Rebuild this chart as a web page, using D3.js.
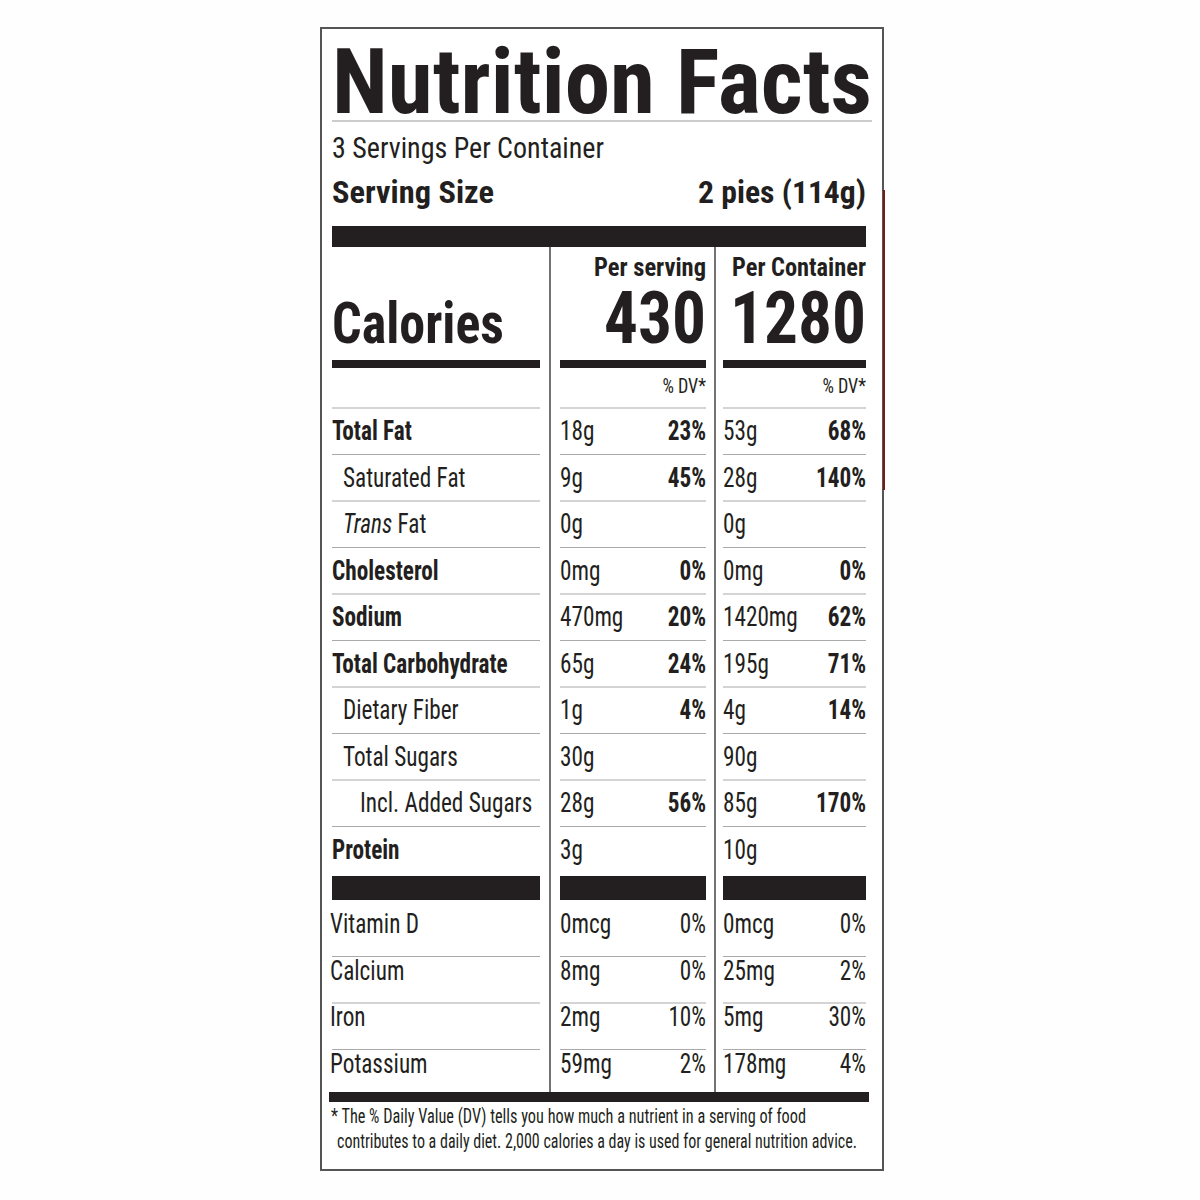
<!DOCTYPE html>
<html>
<head>
<meta charset="utf-8">
<script src="https://cdn.jsdelivr.net/npm/d3@7"></script>
<style>
  body { margin: 0; background: #fff; }
  text { font-family: "Liberation Sans Narrow", "Roboto Condensed", "Liberation Sans", sans-serif; fill: #231f20; }
</style>
</head>
<body>
<div id="label"></div>
<script>
// nutrient rows
const nutrients = ["Total Fat", "Saturated Fat", "Trans Fat", "Cholesterol", "Sodium",
  "Total Carbohydrate", "Dietary Fiber", "Total Sugars", "Incl. Added Sugars", "Protein"];
const indent = [0, 1, 1, 0, 0, 0, 1, 1, 2, 0];
const bold = [true, false, false, true, true, true, false, false, false, true];
const servingAmount = ["18g", "9g", "0g", "0mg", "470mg", "65g", "1g", "30g", "28g", "3g"];
const servingDV = ["23%", "45%", "", "0%", "20%", "24%", "4%", "", "56%", ""];
const containerAmount = ["53g", "28g", "0g", "0mg", "1420mg", "195g", "4g", "90g", "85g", "10g"];
const containerDV = ["68%", "140%", "", "0%", "62%", "71%", "14%", "", "170%", ""];

// vitamins & minerals
const vitamins = ["Vitamin D", "Calcium", "Iron", "Potassium"];
const vitServing = ["0mcg", "8mg", "2mg", "59mg"];
const vitServingDV = ["0%", "0%", "10%", "2%"];
const vitContainer = ["0mcg", "25mg", "5mg", "178mg"];
const vitContainerDV = ["0%", "2%", "30%", "4%"];

const ink = "#231f20";
const svg = d3.select("#label").append("svg").attr("width", 1200).attr("height", 1200);
svg.append("rect").attr("width", 1200).attr("height", 1200).attr("fill", "#fefefe");

// outer box
svg.append("rect").attr("x", 321).attr("y", 28).attr("width", 562).attr("height", 1142)
  .attr("fill", "#fff").attr("stroke", "#555").attr("stroke-width", 2);
svg.append("line").attr("x1", 884).attr("x2", 884).attr("y1", 190).attr("y2", 490)
  .attr("stroke", "#7a1a12").attr("stroke-width", 2);

const L = 332, R = 866;
const cols = [
  { x0: 332, x1: 540 },
  { x0: 560, x1: 706 },
  { x0: 723, x1: 866 }
];

// condensed look: squeeze natural width unless an explicit length is given
function txt(x, y, s, size, opts = {}) {
  const t = svg.append("text").attr("x", x).attr("y", y).attr("font-size", size)
    .attr("font-weight", opts.bold ? "bold" : "normal")
    .attr("text-anchor", opts.anchor || "start").text(s);
  if (opts.len) t.attr("textLength", opts.len).attr("lengthAdjust", "spacingAndGlyphs");
  else if (s) squeeze(t);
  return t;
}
function squeeze(t, f = 0.86) {
  const w = t.node().getComputedTextLength();
  if (w > 0) t.attr("textLength", w * f).attr("lengthAdjust", "spacingAndGlyphs");
}

// header
txt(L, 113, "Nutrition Facts", 90, { bold: true, len: R + 6 - L });
svg.append("line").attr("x1", L).attr("x2", R + 6).attr("y1", 121).attr("y2", 121).attr("stroke", "#999").attr("stroke-width", 1);
txt(L, 158, "3 Servings Per Container", 29, { len: 272 });
txt(L, 203, "Serving Size", 31, { bold: true, len: 162 });
txt(R, 203, "2 pies (114g)", 31, { bold: true, anchor: "end", len: 168 });
svg.append("rect").attr("x", L).attr("y", 226).attr("width", R - L).attr("height", 21).attr("fill", ink);

// column dividers
[550, 715].forEach(x => svg.append("line").attr("x1", x).attr("x2", x).attr("y1", 247).attr("y2", 1092)
  .attr("stroke", "#444").attr("stroke-width", 1.5));

txt(cols[1].x1, 276, "Per serving", 25, { bold: true, anchor: "end", len: 112 });
txt(cols[2].x1, 276, "Per Container", 25, { bold: true, anchor: "end", len: 134 });
txt(L, 343, "Calories", 58, { bold: true, len: 172 });
txt(cols[1].x1, 343, "430", 72, { bold: true, anchor: "end", len: 102 });
txt(cols[2].x1, 343, "1280", 72, { bold: true, anchor: "end", len: 136 });
cols.forEach(c => svg.append("rect").attr("x", c.x0).attr("y", 360).attr("width", c.x1 - c.x0).attr("height", 8).attr("fill", ink));
txt(cols[1].x1, 393, "% DV*", 21, { anchor: "end" });
txt(cols[2].x1, 393, "% DV*", 21, { anchor: "end" });

// nutrient rows
const y = d3.scaleLinear().domain([0, 1]).range([408, 454.5]);
const rowFont = 27;
function sep(yy) {
  cols.forEach(c => svg.append("line").attr("x1", c.x0).attr("x2", c.x1).attr("y1", yy).attr("y2", yy)
    .attr("stroke", "#aaa").attr("stroke-width", 1.2));
}
nutrients.forEach((n, i) => {
  const top = y(i), base = top + 32;
  sep(top);
  const lx = L + [0, 11, 28][indent[i]];
  if (n === "Trans Fat") {
    const t = svg.append("text").attr("x", lx).attr("y", base).attr("font-size", rowFont);
    t.append("tspan").attr("font-style", "italic").text("Trans");
    t.append("tspan").text(" Fat");
    squeeze(t);
  } else {
    txt(lx, base, n, rowFont, { bold: bold[i] });
  }
  txt(cols[1].x0, base, servingAmount[i], rowFont);
  txt(cols[1].x1, base, servingDV[i], rowFont, { bold: true, anchor: "end" });
  txt(cols[2].x0, base, containerAmount[i], rowFont);
  txt(cols[2].x1, base, containerDV[i], rowFont, { bold: true, anchor: "end" });
});

// thick bars before vitamins
cols.forEach(c => svg.append("rect").attr("x", c.x0).attr("y", 876).attr("width", c.x1 - c.x0).attr("height", 24).attr("fill", ink));

const yv = d3.scaleLinear().domain([0, 1]).range([900, 946.5]);
vitamins.forEach((v, i) => {
  const top = yv(i), base = top + 33;
  if (i > 0) sep(top + 10);
  txt(L - 2, base, v, rowFont);
  txt(cols[1].x0, base, vitServing[i], rowFont);
  txt(cols[1].x1, base, vitServingDV[i], rowFont, { anchor: "end" });
  txt(cols[2].x0, base, vitContainer[i], rowFont);
  txt(cols[2].x1, base, vitContainerDV[i], rowFont, { anchor: "end" });
});

svg.append("rect").attr("x", 329).attr("y", 1092).attr("width", 540).attr("height", 10).attr("fill", ink);

txt(331, 1123, "* The % Daily Value (DV) tells you how much a nutrient in a serving of food", 20, { len: 475 });
txt(337, 1148, "contributes to a daily diet. 2,000 calories a day is used for general nutrition advice.", 20, { len: 520 });
</script>
</body>
</html>
